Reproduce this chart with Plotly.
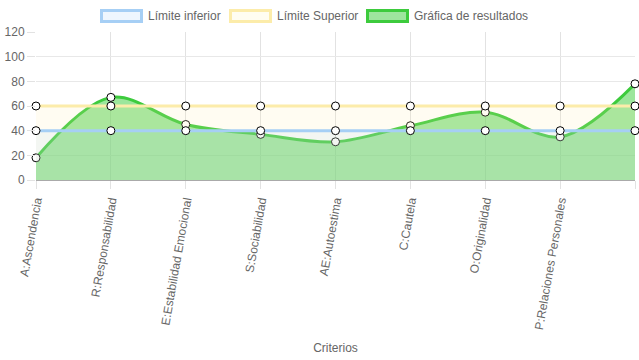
import plotly.graph_objects as go

categories = ["A:Ascendencia", "R:Responsabilidad", "E:Estabilidad Emocional",
              "S:Sociabilidad", "AE:Autoestima", "C:Cautela", "O:Originalidad",
              "P:Relaciones Personales", "V:Vigor"]
limite_inferior = [40, 40, 40, 40, 40, 40, 40, 40, 40]
limite_superior = [60, 60, 60, 60, 60, 60, 60, 60, 60]
resultados = [18, 67, 45, 37, 31, 44, 55, 35, 78]
y_ticks = [0, 20, 40, 60, 80, 100, 120]

names = ["Límite inferior", "Límite Superior", "Gráfica de resultados"]
line_colors = ["#a6cff5", "#fcecaa", "#3dcb3d"]
fill_colors = ["rgba(160,205,245,0.12)", "rgba(252,236,170,0.15)", "rgba(75,210,75,0.55)"]
legend_fill = ["#eef6fe", "#fffdf1", "#9ee59e"]

FONT = "Liberation Sans, Arial, Helvetica, sans-serif"
W, H = 639, 360
# plot area in page pixels: x 36..635, y 32..180
L, T, R, B = 36, 32, 4, 180
PW, PH = W - L - R, H - T - B

def px(x):
    return (x - L) / PW

def py(y):
    return (H - B - y) / PH

fig = go.Figure()
xs = list(range(len(categories)))
series = [resultados, limite_superior, limite_inferior]
idx = [2, 1, 0]
for s, i in zip(series, idx):
    fig.add_trace(go.Scatter(
        x=xs, y=s, mode="lines+markers", name=names[i],
        line=dict(color=line_colors[i], width=3, shape="spline", smoothing=1.0),
        fill="tozeroy", fillcolor=fill_colors[i],
        marker=dict(size=8, color="white", line=dict(color="black", width=1)),
        cliponaxis=False, showlegend=False,
    ))

shapes = []
annotations = []
box_x = [100, 229, 366]
for i, bx in enumerate(box_x):
    shapes.append(dict(type="rect", xref="paper", yref="paper",
                       x0=px(bx + 1.5), x1=px(bx + 41.5), y0=py(21.5), y1=py(10.5),
                       fillcolor=legend_fill[i], line=dict(color=line_colors[i], width=3)))
    annotations.append(dict(xref="paper", yref="paper", x=px(bx + 46), y=py(16),
                            xanchor="left", yanchor="middle", showarrow=False,
                            text=names[i], font=dict(family=FONT, size=12, color="#666")))

fig.update_layout(
    width=W, height=H,
    margin=dict(l=L, r=R, t=T, b=B, autoexpand=False),
    paper_bgcolor="white", plot_bgcolor="white",
    font=dict(family=FONT, size=12, color="#666"),
    shapes=shapes, annotations=annotations,
    xaxis=dict(
        range=[0, len(categories) - 1], tickmode="array", tickvals=xs, ticktext=categories,
        tickangle=-80, showgrid=True, gridcolor="#e2e2e2", gridwidth=1,
        ticks="outside", ticklen=8, tickcolor="#e2e2e2",
        showline=True, linecolor="#aaaaaa", linewidth=1, zeroline=False,
        title=dict(text="Criterios", standoff=13, font=dict(size=12, color="#666")),
        automargin=False,
    ),
    yaxis=dict(
        range=[0, 120], tickmode="array", tickvals=y_ticks,
        showgrid=True, gridcolor="#e8e8e8", gridwidth=1,
        ticks="outside", ticklen=8, tickcolor="#e2e2e2",
        zeroline=False, showline=False, automargin=False,
    ),
)

fig.write_html("out.html", config={"displayModeBar": False},
               post_script="document.body.style.margin='0';document.body.style.overflow='hidden';")
